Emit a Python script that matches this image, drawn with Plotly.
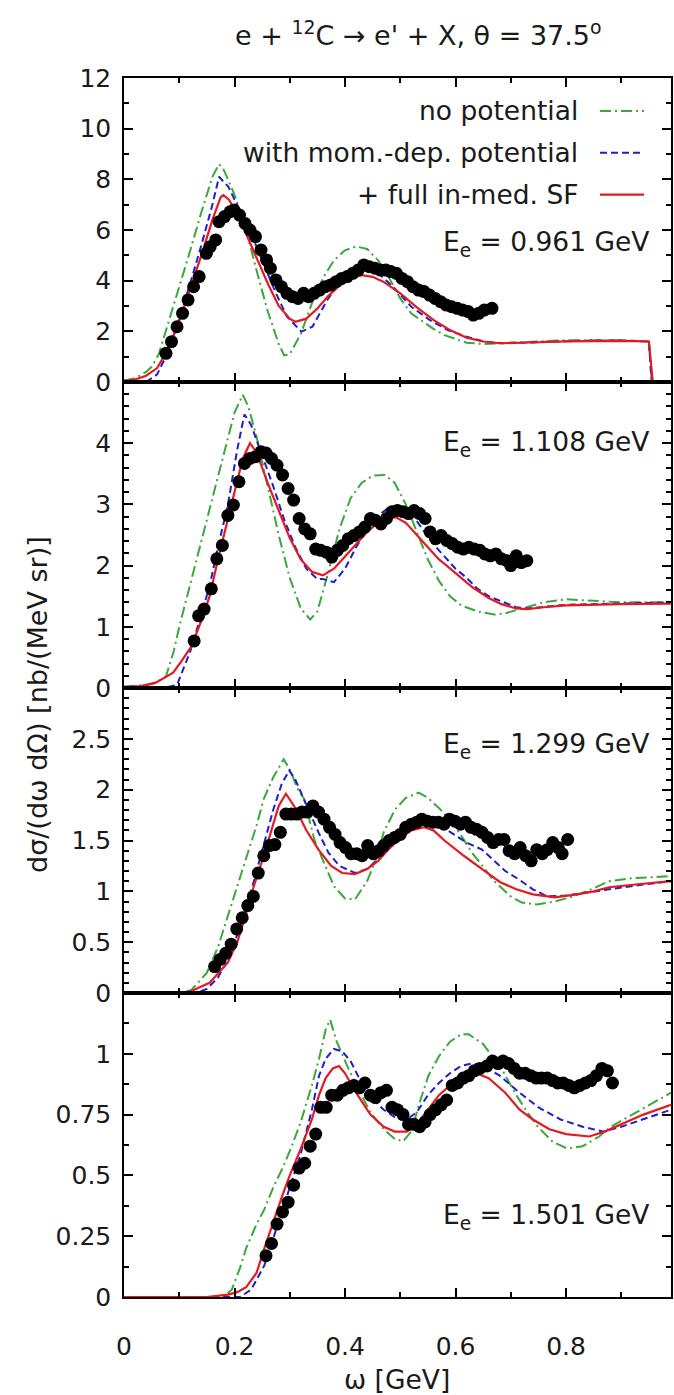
import plotly.graph_objects as go

# ---------------- data ----------------
energies = ["0.961", "1.108", "1.299", "1.501"]

# panel 1: E_e = 0.961 GeV
np1_w = [0, 0.02, 0.04, 0.05, 0.063, 0.08, 0.10, 0.12, 0.14, 0.16, 0.172, 0.18, 0.20, 0.22, 0.24, 0.26, 0.28, 0.29, 0.30, 0.32, 0.34, 0.36, 0.38, 0.40, 0.42, 0.44, 0.46, 0.48, 0.50, 0.52, 0.54, 0.56, 0.58, 0.60, 0.62, 0.65, 0.70, 0.75, 0.80, 0.85, 0.90, 0.95, 0.955]
np1_s = [0.05, 0.15, 0.4, 0.6, 1.1, 2.3, 3.7, 5.2, 6.7, 8.1, 8.6, 8.4, 7.4, 6.1, 4.4, 2.8, 1.5, 1.05, 1.1, 1.9, 3.1, 4.1, 4.8, 5.2, 5.35, 5.25, 4.8, 4.1, 3.3, 2.7, 2.4, 2.1, 1.85, 1.7, 1.55, 1.5, 1.55, 1.6, 1.65, 1.65, 1.65, 1.6, 0.0]
bl1_w = [0, 0.04, 0.06, 0.08, 0.10, 0.12, 0.14, 0.16, 0.172, 0.189, 0.209, 0.235, 0.255, 0.275, 0.295, 0.321, 0.341, 0.368, 0.394, 0.42, 0.434, 0.46, 0.487, 0.52, 0.553, 0.586, 0.62, 0.652, 0.685, 0.75, 0.80, 0.85, 0.90, 0.95, 0.955]
bl1_s = [0.0, 0.0, 0.3, 1.2, 2.5, 3.9, 5.4, 7.0, 8.1, 7.7, 6.8, 5.6, 4.55, 3.5, 2.58, 1.99, 2.18, 3.24, 4.03, 4.42, 4.55, 4.29, 3.76, 2.97, 2.45, 2.05, 1.79, 1.59, 1.53, 1.58, 1.62, 1.64, 1.64, 1.6, 0.0]
rd1_w = [0, 0.02, 0.04, 0.06, 0.08, 0.10, 0.12, 0.14, 0.16, 0.175, 0.18, 0.19, 0.20, 0.22, 0.24, 0.26, 0.28, 0.30, 0.31, 0.33, 0.35, 0.37, 0.39, 0.41, 0.43, 0.45, 0.47, 0.50, 0.53, 0.56, 0.59, 0.62, 0.65, 0.68, 0.72, 0.80, 0.90, 0.95, 0.957]
rd1_s = [0.05, 0.1, 0.25, 0.55, 1.3, 2.4, 3.7, 5.0, 6.4, 7.3, 7.38, 7.2, 6.8, 5.9, 4.9, 3.9, 3.0, 2.5, 2.38, 2.5, 2.9, 3.4, 3.8, 4.1, 4.22, 4.15, 3.95, 3.5, 2.95, 2.45, 2.05, 1.75, 1.6, 1.53, 1.55, 1.6, 1.62, 1.6, 0.0]
dt1_w = [0.076, 0.086, 0.096, 0.106, 0.116, 0.126, 0.136, 0.149, 0.156, 0.166, 0.172, 0.182, 0.192, 0.199, 0.209, 0.219, 0.228, 0.238, 0.248, 0.258, 0.265, 0.275, 0.285, 0.295, 0.305, 0.315, 0.325, 0.334, 0.344, 0.354, 0.364, 0.374, 0.384, 0.394, 0.404, 0.414, 0.424, 0.434, 0.444, 0.454, 0.464, 0.474, 0.483, 0.493, 0.503, 0.513, 0.523, 0.533, 0.543, 0.553, 0.563, 0.573, 0.583, 0.593, 0.603, 0.613, 0.623, 0.632, 0.642, 0.652, 0.666]
dt1_s = [1.13, 1.59, 2.18, 2.71, 3.24, 3.76, 4.16, 5.08, 5.34, 5.61, 6.33, 6.53, 6.72, 6.79, 6.59, 6.26, 6.0, 5.74, 5.21, 4.82, 4.49, 4.03, 3.76, 3.5, 3.37, 3.30, 3.5, 3.37, 3.5, 3.63, 3.76, 3.83, 3.96, 4.09, 4.16, 4.29, 4.42, 4.62, 4.55, 4.49, 4.42, 4.42, 4.36, 4.29, 4.09, 3.96, 3.76, 3.63, 3.57, 3.43, 3.30, 3.17, 3.04, 2.97, 2.91, 2.84, 2.78, 2.64, 2.71, 2.84, 2.91]

# panel 2: E_e = 1.108 GeV
np2_w = [0, 0.04, 0.06, 0.076, 0.09, 0.10, 0.12, 0.14, 0.16, 0.18, 0.20, 0.215, 0.225, 0.24, 0.26, 0.28, 0.30, 0.32, 0.337, 0.35, 0.37, 0.39, 0.41, 0.43, 0.45, 0.472, 0.49, 0.51, 0.53, 0.55, 0.57, 0.59, 0.61, 0.64, 0.67, 0.69, 0.72, 0.76, 0.80, 0.85, 0.90, 0.99]
np2_s = [0.02, 0.05, 0.1, 0.19, 0.6, 1.0, 1.7, 2.4, 3.1, 3.8, 4.5, 4.79, 4.6, 4.1, 3.3, 2.5, 1.8, 1.3, 1.12, 1.25, 1.9, 2.6, 3.1, 3.35, 3.47, 3.48, 3.35, 3.0, 2.55, 2.1, 1.75, 1.5, 1.35, 1.25, 1.2, 1.22, 1.3, 1.4, 1.45, 1.42, 1.4, 1.4]
bl2_w = [0, 0.07, 0.096, 0.12, 0.14, 0.155, 0.17, 0.188, 0.205, 0.218, 0.23, 0.25, 0.27, 0.29, 0.31, 0.33, 0.35, 0.36, 0.38, 0.40, 0.42, 0.44, 0.46, 0.48, 0.498, 0.52, 0.54, 0.56, 0.58, 0.60, 0.62, 0.64, 0.66, 0.683, 0.71, 0.73, 0.76, 0.80, 0.90, 0.99]
bl2_s = [0.0, 0.0, 0.05, 0.6, 1.2, 1.67, 2.3, 2.99, 3.9, 4.47, 4.3, 3.8, 3.3, 2.75, 2.3, 1.95, 1.78, 1.78, 1.73, 1.95, 2.3, 2.6, 2.82, 2.95, 2.99, 2.85, 2.6, 2.35, 2.15, 1.95, 1.8, 1.62, 1.5, 1.42, 1.32, 1.3, 1.33, 1.36, 1.38, 1.4]
rd2_w = [0, 0.03, 0.056, 0.07, 0.089, 0.105, 0.122, 0.14, 0.155, 0.17, 0.188, 0.205, 0.215, 0.228, 0.24, 0.26, 0.28, 0.30, 0.32, 0.34, 0.36, 0.38, 0.40, 0.42, 0.44, 0.46, 0.48, 0.492, 0.51, 0.53, 0.55, 0.57, 0.584, 0.61, 0.63, 0.66, 0.683, 0.71, 0.73, 0.76, 0.80, 0.90, 0.99]
rd2_s = [0.02, 0.03, 0.08, 0.15, 0.25, 0.45, 0.68, 1.1, 1.5, 2.1, 2.77, 3.4, 3.75, 4.0, 3.85, 3.35, 2.9, 2.45, 2.1, 1.9, 1.84, 1.95, 2.15, 2.35, 2.55, 2.7, 2.77, 2.79, 2.7, 2.5, 2.3, 2.1, 2.0, 1.8, 1.65, 1.47, 1.37, 1.3, 1.29, 1.32, 1.35, 1.37, 1.38]
dt2_w = [0.127, 0.135, 0.145, 0.158, 0.168, 0.178, 0.188, 0.198, 0.208, 0.218, 0.228, 0.238, 0.248, 0.257, 0.267, 0.277, 0.287, 0.297, 0.307, 0.317, 0.327, 0.337, 0.347, 0.356, 0.366, 0.376, 0.386, 0.396, 0.406, 0.416, 0.426, 0.436, 0.446, 0.455, 0.465, 0.475, 0.485, 0.495, 0.505, 0.515, 0.525, 0.535, 0.545, 0.554, 0.564, 0.574, 0.584, 0.594, 0.604, 0.614, 0.624, 0.634, 0.644, 0.653, 0.663, 0.673, 0.683, 0.693, 0.700, 0.710, 0.719, 0.729]
dt2_s = [0.77, 1.18, 1.29, 1.62, 2.11, 2.33, 2.82, 2.99, 3.37, 3.67, 3.75, 3.78, 3.86, 3.84, 3.75, 3.64, 3.48, 3.26, 3.07, 2.77, 2.6, 2.52, 2.27, 2.25, 2.22, 2.14, 2.25, 2.33, 2.44, 2.49, 2.55, 2.63, 2.77, 2.74, 2.68, 2.77, 2.88, 2.9, 2.88, 2.85, 2.9, 2.85, 2.77, 2.55, 2.44, 2.49, 2.41, 2.36, 2.3, 2.27, 2.3, 2.27, 2.25, 2.19, 2.16, 2.19, 2.11, 2.08, 2.0, 2.16, 2.05, 2.08]

# panel 3: E_e = 1.299 GeV
np3_w = [0, 0.10, 0.122, 0.15, 0.17, 0.188, 0.205, 0.22, 0.24, 0.253, 0.27, 0.289, 0.30, 0.315, 0.326, 0.345, 0.365, 0.38, 0.40, 0.418, 0.44, 0.455, 0.47, 0.49, 0.51, 0.533, 0.55, 0.57, 0.589, 0.61, 0.63, 0.648, 0.67, 0.70, 0.72, 0.747, 0.78, 0.813, 0.85, 0.878, 0.92, 0.96, 0.99]
np3_s = [0.0, 0.0, 0.03, 0.2, 0.45, 0.76, 1.05, 1.32, 1.65, 1.91, 2.12, 2.3, 2.2, 2.0, 1.91, 1.5, 1.25, 1.05, 0.93, 0.92, 1.1, 1.3, 1.58, 1.8, 1.92, 1.97, 1.92, 1.82, 1.71, 1.55, 1.38, 1.25, 1.1, 0.95, 0.89, 0.87, 0.9, 0.95, 1.03, 1.1, 1.13, 1.14, 1.15]
bl3_w = [0, 0.13, 0.15, 0.17, 0.19, 0.21, 0.23, 0.25, 0.27, 0.285, 0.299, 0.31, 0.33, 0.352, 0.37, 0.39, 0.418, 0.44, 0.46, 0.48, 0.50, 0.52, 0.543, 0.56, 0.58, 0.60, 0.62, 0.648, 0.67, 0.69, 0.714, 0.74, 0.766, 0.80, 0.84, 0.878, 0.93, 0.99]
bl3_s = [0.0, 0.0, 0.04, 0.15, 0.35, 0.65, 1.0, 1.4, 1.8, 2.05, 2.19, 2.1, 1.85, 1.58, 1.38, 1.25, 1.18, 1.22, 1.32, 1.45, 1.58, 1.65, 1.69, 1.68, 1.62, 1.55, 1.48, 1.41, 1.3, 1.2, 1.12, 1.02, 0.95, 0.96, 0.99, 1.02, 1.06, 1.1]
rd3_w = [0, 0.10, 0.122, 0.155, 0.188, 0.205, 0.22, 0.235, 0.253, 0.268, 0.28, 0.293, 0.31, 0.33, 0.352, 0.375, 0.395, 0.418, 0.44, 0.46, 0.48, 0.50, 0.52, 0.543, 0.56, 0.58, 0.60, 0.615, 0.64, 0.66, 0.681, 0.71, 0.74, 0.78, 0.82, 0.85, 0.878, 0.93, 0.99]
rd3_s = [0.0, 0.0, 0.02, 0.1, 0.3, 0.5, 0.76, 1.05, 1.35, 1.62, 1.84, 1.96, 1.82, 1.6, 1.41, 1.25, 1.18, 1.17, 1.22, 1.3, 1.42, 1.52, 1.6, 1.63, 1.6, 1.5, 1.41, 1.35, 1.25, 1.17, 1.09, 1.02, 0.97, 0.94, 0.97, 1.0, 1.04, 1.07, 1.1]
dt3_w = [0.164, 0.174, 0.184, 0.194, 0.204, 0.214, 0.224, 0.234, 0.243, 0.253, 0.263, 0.273, 0.283, 0.293, 0.303, 0.313, 0.322, 0.332, 0.342, 0.352, 0.362, 0.372, 0.382, 0.391, 0.401, 0.411, 0.421, 0.431, 0.441, 0.451, 0.461, 0.470, 0.480, 0.490, 0.500, 0.510, 0.520, 0.530, 0.539, 0.549, 0.559, 0.569, 0.579, 0.589, 0.599, 0.609, 0.618, 0.628, 0.638, 0.648, 0.658, 0.668, 0.678, 0.688, 0.697, 0.707, 0.717, 0.727, 0.737, 0.747, 0.757, 0.766, 0.776, 0.786, 0.793, 0.803]
dt3_s = [0.26, 0.33, 0.39, 0.48, 0.63, 0.74, 0.86, 0.95, 1.18, 1.35, 1.45, 1.46, 1.58, 1.76, 1.76, 1.76, 1.78, 1.78, 1.84, 1.78, 1.71, 1.63, 1.56, 1.48, 1.43, 1.37, 1.37, 1.35, 1.45, 1.37, 1.40, 1.45, 1.50, 1.53, 1.56, 1.63, 1.66, 1.68, 1.71, 1.69, 1.68, 1.68, 1.66, 1.71, 1.69, 1.66, 1.68, 1.63, 1.61, 1.58, 1.53, 1.48, 1.51, 1.51, 1.40, 1.37, 1.43, 1.35, 1.30, 1.41, 1.37, 1.41, 1.48, 1.43, 1.37, 1.51]

# panel 4: E_e = 1.501 GeV
np4_w = [0, 0.18, 0.195, 0.21, 0.221, 0.24, 0.254, 0.27, 0.287, 0.30, 0.32, 0.34, 0.353, 0.365, 0.373, 0.385, 0.406, 0.425, 0.446, 0.47, 0.49, 0.505, 0.52, 0.535, 0.551, 0.57, 0.59, 0.61, 0.624, 0.65, 0.683, 0.71, 0.73, 0.749, 0.775, 0.802, 0.83, 0.86, 0.881, 0.92, 0.96, 0.99]
np4_s = [0.0, 0.0, 0.03, 0.12, 0.2, 0.3, 0.36, 0.45, 0.53, 0.6, 0.72, 0.87, 0.98, 1.1, 1.14, 1.05, 0.94, 0.85, 0.76, 0.69, 0.65, 0.64, 0.68, 0.8, 0.91, 0.99, 1.05, 1.08, 1.08, 1.04, 0.94, 0.83, 0.76, 0.7, 0.64, 0.61, 0.62, 0.66, 0.7, 0.75, 0.8, 0.84]
bl4_w = [0, 0.21, 0.23, 0.254, 0.27, 0.287, 0.30, 0.32, 0.34, 0.353, 0.365, 0.38, 0.395, 0.41, 0.43, 0.452, 0.47, 0.49, 0.512, 0.53, 0.55, 0.57, 0.59, 0.61, 0.63, 0.65, 0.68, 0.716, 0.75, 0.79, 0.83, 0.868, 0.90, 0.94, 0.99]
bl4_s = [0.0, 0.0, 0.03, 0.13, 0.24, 0.36, 0.45, 0.59, 0.77, 0.91, 0.98, 1.02, 1.01, 0.97, 0.88, 0.81, 0.77, 0.74, 0.73, 0.76, 0.83, 0.88, 0.92, 0.95, 0.96, 0.95, 0.91, 0.84, 0.78, 0.73, 0.7, 0.68, 0.7, 0.73, 0.77]
rd4_w = [0, 0.15, 0.188, 0.205, 0.221, 0.24, 0.254, 0.27, 0.287, 0.30, 0.32, 0.34, 0.353, 0.365, 0.378, 0.389, 0.40, 0.42, 0.446, 0.47, 0.49, 0.512, 0.53, 0.55, 0.57, 0.59, 0.61, 0.637, 0.66, 0.69, 0.716, 0.74, 0.77, 0.80, 0.842, 0.87, 0.90, 0.94, 0.99]
rd4_s = [0.0, 0.0, 0.01, 0.02, 0.04, 0.1, 0.2, 0.31, 0.42, 0.5, 0.61, 0.73, 0.83, 0.9, 0.94, 0.95, 0.92, 0.84, 0.75, 0.7, 0.68, 0.68, 0.71, 0.77, 0.83, 0.87, 0.9, 0.92, 0.9, 0.84, 0.77, 0.73, 0.69, 0.67, 0.66, 0.68, 0.71, 0.75, 0.79]
dt4_w = [0.257, 0.267, 0.277, 0.287, 0.297, 0.307, 0.317, 0.327, 0.337, 0.347, 0.356, 0.366, 0.376, 0.386, 0.396, 0.406, 0.416, 0.426, 0.436, 0.446, 0.455, 0.465, 0.475, 0.485, 0.495, 0.505, 0.515, 0.525, 0.535, 0.545, 0.554, 0.564, 0.574, 0.584, 0.594, 0.604, 0.614, 0.624, 0.634, 0.644, 0.657, 0.667, 0.677, 0.686, 0.696, 0.706, 0.716, 0.726, 0.736, 0.746, 0.756, 0.766, 0.776, 0.785, 0.795, 0.805, 0.815, 0.825, 0.835, 0.845, 0.855, 0.865, 0.875, 0.884]
dt4_s = [0.17, 0.22, 0.30, 0.35, 0.39, 0.46, 0.53, 0.55, 0.62, 0.67, 0.78, 0.78, 0.83, 0.83, 0.85, 0.86, 0.87, 0.86, 0.88, 0.83, 0.82, 0.84, 0.85, 0.78, 0.77, 0.75, 0.71, 0.71, 0.70, 0.72, 0.75, 0.77, 0.79, 0.81, 0.87, 0.88, 0.90, 0.91, 0.93, 0.94, 0.95, 0.97, 0.96, 0.97, 0.96, 0.94, 0.92, 0.92, 0.91, 0.90, 0.90, 0.90, 0.89, 0.88, 0.88, 0.87, 0.86, 0.87, 0.88, 0.89, 0.91, 0.94, 0.93, 0.88]

panels = [
    (np1_w, np1_s, bl1_w, bl1_s, rd1_w, rd1_s, dt1_w, dt1_s),
    (np2_w, np2_s, bl2_w, bl2_s, rd2_w, rd2_s, dt2_w, dt2_s),
    (np3_w, np3_s, bl3_w, bl3_s, rd3_w, rd3_s, dt3_w, dt3_s),
    (np4_w, np4_s, bl4_w, bl4_s, rd4_w, rd4_s, dt4_w, dt4_s),
]
y_ranges = [[0, 12], [0, 5], [0, 3], [0, 1.25]]
y_ticks = [[0, 2, 4, 6, 8, 10, 12], [0, 1, 2, 3, 4], [0, 0.5, 1, 1.5, 2, 2.5], [0, 0.25, 0.5, 0.75, 1]]
y_minor = [1, 0.2, 0.1, 0.125]
label_y = [5.45, 4.0, 2.43, 0.33]
legend_names = ["no potential", "with mom.-dep. potential", "+ full in-med. SF"]

# ---------------- styling ----------------
W, H = 674, 1395
FONT = "DejaVu Sans, Liberation Sans, sans-serif"
FS = 26.5
FS_TICK = 25
TXT = "#1a1a1a"
GREEN = "#3aa83a"
BLUE = "#1f1fc8"
RED = "#e41a22"
DASH_G = "11px,4px,2px,4px"
DASH_B = "7px,4px"
px_left, px_right = 124, 671
panel_px = [(78, 382), (382, 688), (688, 993), (993, 1297)]

fig = go.Figure()
layout = dict(
    width=W, height=H, autosize=False,
    margin=dict(l=0, r=0, t=0, b=0, pad=0),
    paper_bgcolor="white", plot_bgcolor="white",
    showlegend=False,
    font=dict(family=FONT, size=FS, color=TXT),
)

for i, (gw, gs, bw, bs, rw, rs, dw, ds) in enumerate(panels):
    k = i + 1
    xa = "x" if k == 1 else f"x{k}"
    ya = "y" if k == 1 else f"y{k}"
    fig.add_trace(go.Scatter(x=gw, y=gs, mode="lines", xaxis=xa, yaxis=ya,
                             line=dict(color=GREEN, width=2, dash=DASH_G)))
    fig.add_trace(go.Scatter(x=bw, y=bs, mode="lines", xaxis=xa, yaxis=ya,
                             line=dict(color=BLUE, width=2, dash=DASH_B)))
    fig.add_trace(go.Scatter(x=rw, y=rs, mode="lines", xaxis=xa, yaxis=ya,
                             line=dict(color=RED, width=2.2)))
    fig.add_trace(go.Scatter(x=dw, y=ds, mode="markers", xaxis=xa, yaxis=ya,
                             marker=dict(color="black", size=13, line=dict(width=0))))
    top, bot = panel_px[i]
    axis_common = dict(showline=True, linecolor="black", linewidth=1.5, mirror="ticks",
                       ticks="inside", tickcolor="black", tickwidth=1.5, ticklen=9,
                       showgrid=False, zeroline=False, automargin=False,
                       tickfont=dict(family=FONT, size=FS_TICK, color=TXT))
    layout["xaxis" if k == 1 else f"xaxis{k}"] = dict(
        axis_common, domain=[px_left / W, px_right / W], range=[0, 0.99],
        anchor=ya, tickvals=[0, 0.2, 0.4, 0.6, 0.8], ticktext=["0", "0.2", "0.4", "0.6", "0.8"],
        showticklabels=(k == 4), ticklabelstandoff=26,
        minor=dict(dtick=0.1, tick0=0, ticks="inside", ticklen=5, tickcolor="black", tickwidth=1.5),
        matches=None if k == 1 else "x",
    )
    layout["yaxis" if k == 1 else f"yaxis{k}"] = dict(
        axis_common, domain=[1 - bot / H, 1 - top / H], range=y_ranges[i],
        anchor=xa, tickvals=y_ticks[i], ticklabelstandoff=6,
        minor=dict(dtick=y_minor[i], tick0=0, ticks="inside", ticklen=5, tickcolor="black", tickwidth=1.5),
    )

annotations = []
shapes = []
# panel energy labels
for i, e in enumerate(energies):
    k = i + 1
    annotations.append(dict(
        text=f"E<sub>e</sub> = {e} GeV", x=651 / W, xref="paper", xanchor="right",
        y=label_y[i], yref="y" if k == 1 else f"y{k}", yanchor="middle",
        showarrow=False, font=dict(size=FS)))

# legend (text right-aligned, sample line to the right)
leg_y = [10.7, 9.05, 7.4]
leg_style = [dict(color=GREEN, width=2, dash=DASH_G), dict(color=BLUE, width=2, dash=DASH_B),
             dict(color=RED, width=2.2)]
for name, yy, st in zip(legend_names, leg_y, leg_style):
    annotations.append(dict(text=name, x=580 / W, xref="paper", xanchor="right",
                            y=yy, yref="y", yanchor="middle", showarrow=False, font=dict(size=FS)))
    shapes.append(dict(type="line", xref="paper", yref="y", x0=600 / W, x1=644 / W,
                       y0=yy, y1=yy, line=st))

# title
annotations.append(dict(text="e + <sup>12</sup>C \u2192 e' + X, \u03b8 = 37.5<sup>o</sup>",
                        x=418 / W, xref="paper", xanchor="center",
                        y=1 - 34 / H, yref="paper", yanchor="middle",
                        showarrow=False, font=dict(size=27)))
# x-axis title
annotations.append(dict(text="\u03c9 [GeV]", x=397 / W, xref="paper", xanchor="center",
                        y=1 - 1379 / H, yref="paper", yanchor="middle",
                        showarrow=False, font=dict(size=FS)))
# y-axis title
annotations.append(dict(text="d\u03c3/(d\u03c9 d\u03a9) [nb/(MeV sr)]", x=37 / W, xref="paper",
                        xanchor="center", y=1 - 705 / H, yref="paper", yanchor="middle",
                        textangle=-90, showarrow=False, font=dict(size=27)))

layout["annotations"] = annotations
layout["shapes"] = shapes
fig.update_layout(**layout)
fig.write_html("out.html")
